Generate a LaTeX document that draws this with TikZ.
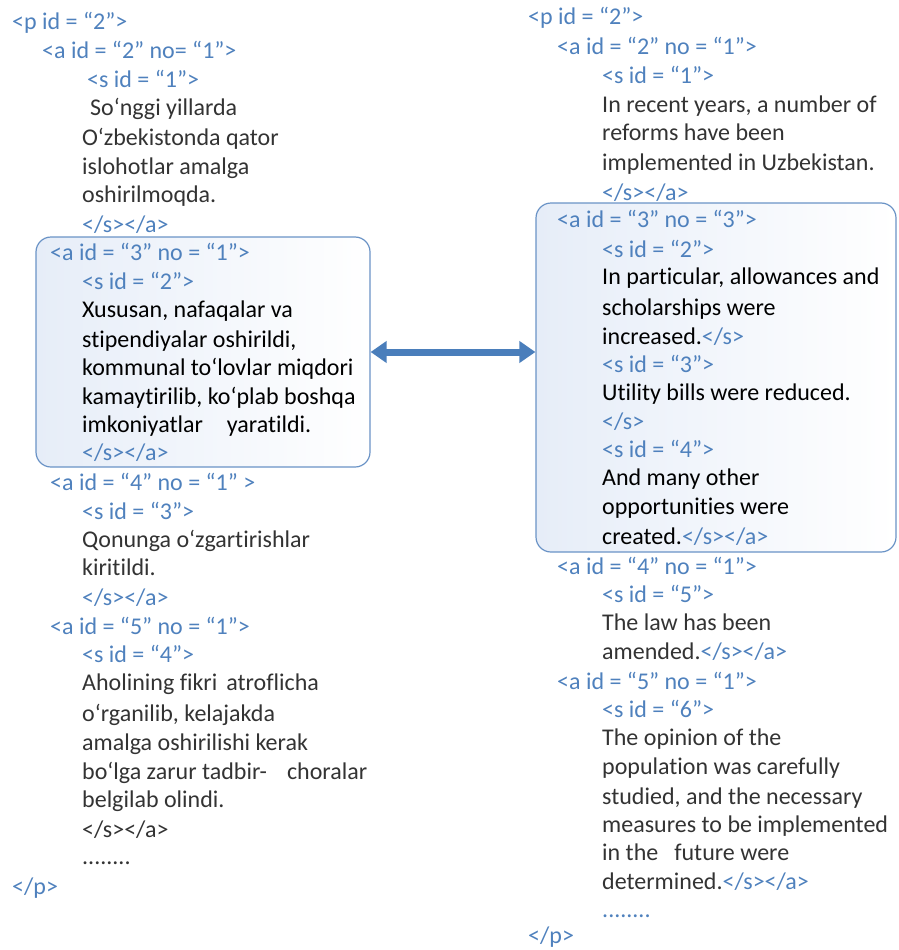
\documentclass[tikz,border=0pt]{standalone}
\usepackage{fontspec}
\setmainfont{Carlito}[Ligatures=NoCommon]
\usetikzlibrary{arrows.meta}

\definecolor{tagblue}{HTML}{4F81BD}
\definecolor{bodygray}{HTML}{333333}
\definecolor{frameblue}{HTML}{6A93C6}
\definecolor{fillblue}{HTML}{E6EDF8}
\definecolor{arrowblue}{HTML}{4A7EBB}

\tikzset{
	tag/.style={anchor=base west, inner sep=0pt, text=tagblue},
	txt/.style={anchor=base west, inner sep=0pt, text=bodygray},
	boxtxt/.style={anchor=base west, inner sep=0pt, text=black},
	alignbox/.style={draw=frameblue, line width=1.2pt, rounded corners=15pt,
		left color=fillblue, right color=white, inner sep=0pt},
	linkarrow/.style={arrowblue, line width=7pt,
		{Triangle[length=16pt,width=21pt]}-{Triangle[length=16pt,width=21pt]}}
}

\begin{document}
\begin{tikzpicture}[x=1pt, y=-1pt, font=\fontsize{24}{29}\selectfont]
	\useasboundingbox (0,0) rectangle (899,950);
	% aligned blocks
	\node[alignbox, minimum width=334pt, minimum height=230pt] (lbox) at (203,352) {};
	\node[alignbox, minimum width=360pt, minimum height=349pt] (rbox) at (716,377.5) {};
	\draw[linkarrow] (lbox.east) -- (lbox.east -| rbox.west);

	% source text (Uzbek)
	\node[tag] (lp) at (12,30) {<p id = “2”>};
	\node[tag] (la2) at (42,59) {<a id = “2” no= “1”>};
	\node[tag] (ls1) at (87,87) {<s id = “1”>};
	\node[txt] (l1a) at (90,115) {So‘nggi yillarda};
	\node[txt] (l1b) at (82,145) {O‘zbekistonda qator};
	\node[txt] (l1c) at (82,174) {islohotlar amalga};
	\node[txt] (l1d) at (82,202) {oshirilmoqda.};
	\node[tag] (l1e) at (82,232) {</s></a>};
	\node[tag] (la3) at (50,260) {<a id = “3” no = “1”>};
	\node[tag] (ls2) at (82,289) {<s id = “2”>};
	\node[boxtxt] (l2a) at (82,317) {Xususan, nafaqalar va};
	\node[boxtxt] (l2b) at (82,347) {stipendiyalar oshirildi,};
	\node[boxtxt] (l2c) at (82,375) {kommunal to‘lovlar miqdori};
	\node[boxtxt] (l2d) at (82,404) {kamaytirilib, ko‘plab boshqa};
	\node[boxtxt] (l2e) at (82,432) {imkoniyatlar\hspace*{24pt}yaratildi.};
	\node[tag] (l2f) at (82,460) {</s></a>};
	\node[tag] (la4) at (50,490) {<a id = “4” no = “1” >};
	\node[tag] (ls3) at (82,519) {<s id = “3”>};
	\node[txt] (l3a) at (82,547) {Qonunga o‘zgartirishlar};
	\node[txt] (l3b) at (82,575) {kiritildi.};
	\node[tag] (l3c) at (82,605) {</s></a>};
	\node[tag] (la5) at (50,634) {<a id = “5” no = “1”>};
	\node[tag] (ls4) at (82,662) {<s id = “4”>};
	\node[txt] (l4a) at (82,690) {Aholining fikri\hspace*{9pt}atroflicha};
	\node[txt] (l4b) at (82,721) {o‘rganilib, kelajakda};
	\node[txt] (l4c) at (82,750) {amalga oshirilishi kerak};
	\node[txt] (l4d) at (82,779) {bo‘lga zarur tadbir-\hspace*{20pt}choralar};
	\node[txt] (l4e) at (82,807) {belgilab olindi.};
	\node[txt] (l4f) at (82,837) {</s></a>};
	\node[txt] (ldots) at (82,864) {........};
	\node[tag] (lpend) at (12,894) {</p>};

	% target text (English)
	\node[tag] (rp) at (528,25) {<p id = “2”>};
	\node[tag] (ra2) at (557,55) {<a id = “2” no = “1”>};
	\node[tag] (rs1) at (602,84) {<s id = “1”>};
	\node[txt] (r1a) at (602,112) {In recent years, a number of};
	\node[txt] (r1b) at (602,140) {reforms have been};
	\node[txt] (r1c) at (602,170) {implemented in Uzbekistan.};
	\node[tag] (r1d) at (602,200) {</s></a>};
	\node[tag] (ra3) at (557,227) {<a id = “3” no = “3”>};
	\node[tag] (rs2) at (602,257) {<s id = “2”>};
	\node[boxtxt] (r2a) at (602,284) {In particular, allowances and};
	\node[boxtxt] (r2b) at (602,315) {scholarships were};
	\node[boxtxt] (r2c) at (602,344) {increased.\textcolor{tagblue}{</s>}};
	\node[tag] (rs3) at (602,372) {<s id = “3”>};
	\node[boxtxt] (r3a) at (602,400) {Utility bills were reduced.};
	\node[tag] (r3b) at (602,429) {</s>};
	\node[tag] (rs4) at (602,457) {<s id = “4”>};
	\node[boxtxt] (r4a) at (602,485) {And many other};
	\node[boxtxt] (r4b) at (602,514) {opportunities were};
	\node[boxtxt] (r4c) at (602,544) {created.\textcolor{tagblue}{</s></a>}};
	\node[tag] (ra4) at (557,574) {<a id = “4” no = “1”>};
	\node[tag] (rs5) at (602,602) {<s id = “5”>};
	\node[txt] (r5a) at (602,630) {The law has been};
	\node[txt] (r5b) at (602,659) {amended.\textcolor{tagblue}{</s></a>}};
	\node[tag] (ra5) at (557,689) {<a id = “5” no = “1”>};
	\node[tag] (rs6) at (602,717) {<s id = “6”>};
	\node[txt] (r6a) at (602,745) {The opinion of the};
	\node[txt] (r6b) at (602,774) {population was carefully};
	\node[txt] (r6c) at (602,804) {studied, and the necessary};
	\node[txt] (r6d) at (602,832) {measures to be implemented};
	\node[txt] (r6e) at (602,860) {in the\hspace*{16pt}future were};
	\node[txt] (r6f) at (602,889) {determined.\textcolor{tagblue}{</s></a>}};
	\node[tag] (rdots) at (602,917) {........};
	\node[tag] (rpend) at (528,943) {</p>};
\end{tikzpicture}
\end{document}
